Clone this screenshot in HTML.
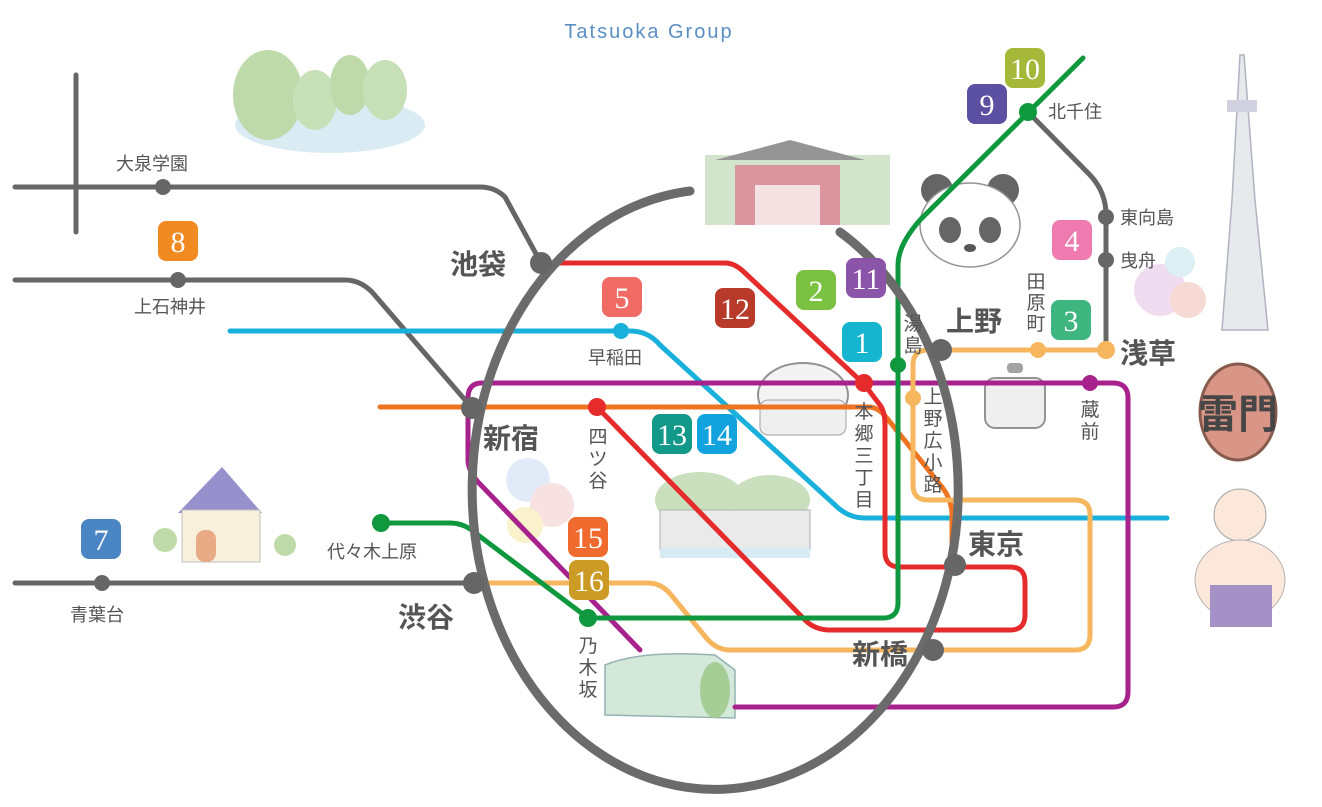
<!DOCTYPE html>
<html><head><meta charset="utf-8"><style>
html,body{margin:0;padding:0;background:#fff;}
svg{display:block;}
.l{font-family:"Liberation Sans","Noto Sans CJK JP",sans-serif;fill:#555;}
.b{font-family:"Liberation Serif",serif;fill:#fff;font-size:30px;text-anchor:middle;}
</style></head><body>
<svg width="1322" height="807" viewBox="0 0 1322 807" xmlns="http://www.w3.org/2000/svg">
<text x="649" y="38" font-family="Liberation Sans,sans-serif" font-size="20" fill="#5b8fc4" text-anchor="middle" letter-spacing="2">Tatsuoka Group</text>

<g opacity="0.9">
 <ellipse cx="330" cy="125" rx="95" ry="28" fill="#d6e9f3"/>
 <ellipse cx="268" cy="95" rx="35" ry="45" fill="#b7d6a3"/>
 <ellipse cx="315" cy="100" rx="22" ry="30" fill="#c3ddb0"/>
 <ellipse cx="350" cy="85" rx="20" ry="30" fill="#b7d6a3"/>
 <ellipse cx="385" cy="90" rx="22" ry="30" fill="#c3ddb0"/>
 <rect x="705" y="155" width="185" height="70" fill="#cfe2c8"/>
 <polygon points="715,160 790,140 865,160" fill="#8a8a8a"/>
 <rect x="735" y="165" width="105" height="60" fill="#d98b95"/>
 <rect x="755" y="185" width="65" height="40" fill="#f4e0e0"/>
 <circle cx="937" cy="190" r="16" fill="#555"/><circle cx="1003" cy="190" r="16" fill="#555"/>
 <ellipse cx="970" cy="225" rx="50" ry="42" fill="#fff" stroke="#888" stroke-width="1.5"/>
 <ellipse cx="950" cy="230" rx="11" ry="13" fill="#555"/><ellipse cx="990" cy="230" rx="11" ry="13" fill="#555"/>
 <ellipse cx="970" cy="248" rx="6" ry="4" fill="#444"/>
 <polygon points="1240,55 1244,55 1255,200 1268,330 1222,330 1232,200" fill="#e4e8ec" stroke="#aab" stroke-width="1.5"/>
 <rect x="1227" y="100" width="30" height="12" fill="#ccd" />
 <circle cx="1160" cy="290" r="26" fill="#efd9f0"/><circle cx="1188" cy="300" r="18" fill="#f6d6cf"/><circle cx="1180" cy="262" r="15" fill="#d9eef2"/>
 <rect x="985" y="378" width="60" height="50" rx="10" fill="#eee" stroke="#888" stroke-width="2"/>
 <rect x="1007" y="363" width="16" height="10" rx="4" fill="#999"/>
 <ellipse cx="1238" cy="412" rx="38" ry="48" fill="#d58a78" stroke="#7a4a3a" stroke-width="3"/>
 <text x="1238" y="428" font-family="Noto Sans CJK JP,sans-serif" font-size="40" font-weight="bold" fill="#333" text-anchor="middle">雷門</text>
 <circle cx="1240" cy="515" r="26" fill="#fbe6d6" stroke="#999"/>
 <ellipse cx="1240" cy="580" rx="45" ry="40" fill="#fbe6d6" stroke="#aaa"/>
 <rect x="1210" y="585" width="62" height="42" fill="#9b87c2"/>
 <polygon points="178,513 222,467 262,513" fill="#8b86c8"/>
 <rect x="182" y="510" width="78" height="52" fill="#f7efd7" stroke="#bbb"/>
 <rect x="196" y="530" width="20" height="32" rx="9" fill="#e6a37a"/>
 <circle cx="165" cy="540" r="12" fill="#b9d7a0"/><circle cx="285" cy="545" r="11" fill="#b9d7a0"/>
 <ellipse cx="803" cy="395" rx="45" ry="32" fill="#f2f2f2" stroke="#888" stroke-width="2"/>
 <rect x="760" y="400" width="86" height="35" rx="8" fill="#eee" stroke="#999"/>
 <ellipse cx="700" cy="500" rx="45" ry="28" fill="#c5dcb6"/><ellipse cx="770" cy="500" rx="40" ry="25" fill="#c5dcb6"/>
 <rect x="660" y="510" width="150" height="40" fill="#e8e8e8" stroke="#aaa"/>
 <rect x="660" y="548" width="150" height="10" fill="#d3e9f4"/>
 <circle cx="528" cy="480" r="22" fill="#e1e8f7"/><circle cx="552" cy="505" r="22" fill="#f8dede"/><circle cx="525" cy="525" r="18" fill="#faf0c8"/>
 <path d="M605,715 L605,665 Q640,650 715,655 L735,670 L735,718 Z" fill="#cfe6d4" stroke="#8aa" stroke-width="1.5"/>
 <ellipse cx="715" cy="690" rx="15" ry="28" fill="#9bc98a"/>
</g>

<g fill="none" stroke-linecap="round" stroke-linejoin="round" stroke-width="5">
 <path d="M76,75 V232" stroke="#666"/>
 <path d="M15,187 H480 Q495,187 505,197 L541,263" stroke="#666"/>
 <path d="M15,280 H345 Q360,280 372,292 L472,408" stroke="#666"/>
 <path d="M15,583 H474" stroke="#666"/>
 <path d="M1028,112 L1090,175 Q1106,192 1106,215 V350" stroke="#666"/>
 <path d="M230,331 H630 Q648,331 660,345 L835,505 Q848,518 865,518 H1167" stroke="#1ab0dc"/>
 <path d="M735,707 H1113 Q1128,707 1128,692 V398 Q1128,383 1113,383 H482 Q468,383 468,398 V460 Q468,470 478,482 L640,650" stroke="#a8228e"/>
 <path d="M380,407 H868 Q878,407 886,417 L942,487 Q952,500 952,515 V565" stroke="#ee7422"/>
 <path d="M1106,350 H928 Q913,350 913,365 V485 Q913,500 928,500 H1075 Q1090,500 1090,515 V635 Q1090,650 1075,650 H730 Q718,650 708,640 L672,596 Q662,583 648,583 H474" stroke="#f6b65e"/>
 <path d="M541,263 H725 Q735,263 745,273 L864,384 L880,405 Q885,412 885,425 V552 Q885,567 900,567 H1010 Q1025,567 1025,582 V615 Q1025,630 1010,630 H830 Q815,630 805,620 L597,407" stroke="#e52b2b"/>
 <path d="M1083,58 L920,220 Q898,245 898,265 V603 Q898,618 883,618 H588 L478,535 Q465,523 450,523 H381" stroke="#10983f"/>
 <path d="M840,232 A243,300 0 1 1 690,191" stroke="#6b6b6b" stroke-width="9"/>
</g>

<g fill="#666">
 <circle cx="541" cy="263" r="11"/><circle cx="472" cy="408" r="11"/><circle cx="474" cy="583" r="11"/>
 <circle cx="941" cy="350" r="11"/><circle cx="955" cy="565" r="11"/><circle cx="933" cy="650" r="11"/>
 <circle cx="163" cy="187" r="8"/><circle cx="178" cy="280" r="8"/><circle cx="102" cy="583" r="8"/>
 <circle cx="1106" cy="217" r="8"/><circle cx="1106" cy="260" r="8"/>
</g>
<circle cx="621" cy="331" r="8" fill="#1ab0dc"/>
<circle cx="597" cy="407" r="9" fill="#e52b2b"/>
<circle cx="864" cy="383" r="9" fill="#e52b2b"/>
<circle cx="898" cy="365" r="8" fill="#10983f"/>
<circle cx="1028" cy="112" r="9" fill="#10983f"/>
<circle cx="381" cy="523" r="9" fill="#10983f"/>
<circle cx="588" cy="618" r="9" fill="#10983f"/>
<circle cx="1090" cy="383" r="8" fill="#a8228e"/>
<circle cx="1038" cy="350" r="8" fill="#f6b65e"/><circle cx="1106" cy="350" r="9" fill="#f6b65e"/><circle cx="913" cy="398" r="8" fill="#f6b65e"/>

<g class="l" font-size="28" font-weight="bold">
 <text x="450" y="274">池袋</text>
 <text x="946" y="331">上野</text>
 <text x="1120" y="363">浅草</text>
 <text x="483" y="448">新宿</text>
 <text x="968" y="554">東京</text>
 <text x="398" y="627">渋谷</text>
 <text x="852" y="664">新橋</text>
</g>
<g class="l" font-size="18">
 <text x="116" y="170">大泉学園</text>
 <text x="134" y="313">上石神井</text>
 <text x="588" y="364">早稲田</text>
 <text x="327" y="558">代々木上原</text>
 <text x="70" y="621">青葉台</text>
 <text x="1048" y="118">北千住</text>
 <text x="1120" y="224">東向島</text>
 <text x="1120" y="267">曳舟</text>
</g>
<g class="l" font-size="19" text-anchor="middle">
 <text x="913" y="330">湯</text><text x="913" y="352">島</text>
 <text x="1036" y="288">田</text><text x="1036" y="309">原</text><text x="1036" y="330">町</text>
 <text x="933" y="403">上</text><text x="933" y="425">野</text><text x="933" y="447">広</text><text x="933" y="469">小</text><text x="933" y="491">路</text>
 <text x="864" y="418">本</text><text x="864" y="440">郷</text><text x="864" y="462">三</text><text x="864" y="484">丁</text><text x="864" y="506">目</text>
 <text x="598" y="443">四</text><text x="598" y="465">ツ</text><text x="598" y="487">谷</text>
 <text x="588" y="652">乃</text><text x="588" y="674">木</text><text x="588" y="696">坂</text>
 <text x="1090" y="416">蔵</text><text x="1090" y="438">前</text>
</g>

<g>
 <rect x="158" y="221" width="40" height="40" rx="8" fill="#f18a21"/><text class="b" x="178" y="252">8</text>
 <rect x="602" y="277" width="40" height="40" rx="8" fill="#ef6b63"/><text class="b" x="622" y="308">5</text>
 <rect x="715" y="288" width="40" height="40" rx="8" fill="#b83a2b"/><text class="b" x="735" y="319">12</text>
 <rect x="796" y="270" width="40" height="40" rx="8" fill="#7cc242"/><text class="b" x="816" y="301">2</text>
 <rect x="846" y="258" width="40" height="40" rx="8" fill="#8a55a8"/><text class="b" x="866" y="289">11</text>
 <rect x="842" y="322" width="40" height="40" rx="8" fill="#15b4cf"/><text class="b" x="862" y="353">1</text>
 <rect x="652" y="414" width="40" height="40" rx="8" fill="#13998a"/><text class="b" x="672" y="445">13</text>
 <rect x="697" y="414" width="40" height="40" rx="8" fill="#12a3de"/><text class="b" x="717" y="445">14</text>
 <rect x="568" y="517" width="40" height="40" rx="8" fill="#ef6a2c"/><text class="b" x="588" y="548">15</text>
 <rect x="569" y="560" width="40" height="40" rx="8" fill="#cc9b25"/><text class="b" x="589" y="591">16</text>
 <rect x="81" y="519" width="40" height="40" rx="8" fill="#4b86c4"/><text class="b" x="101" y="550">7</text>
 <rect x="1005" y="48" width="40" height="40" rx="8" fill="#a5b83a"/><text class="b" x="1025" y="79">10</text>
 <rect x="967" y="84" width="40" height="40" rx="8" fill="#5b50a2"/><text class="b" x="987" y="115">9</text>
 <rect x="1052" y="220" width="40" height="40" rx="8" fill="#ee7ab0"/><text class="b" x="1072" y="251">4</text>
 <rect x="1051" y="300" width="40" height="40" rx="8" fill="#3fb57f"/><text class="b" x="1071" y="331">3</text>
</g>
</svg>
</body></html>
